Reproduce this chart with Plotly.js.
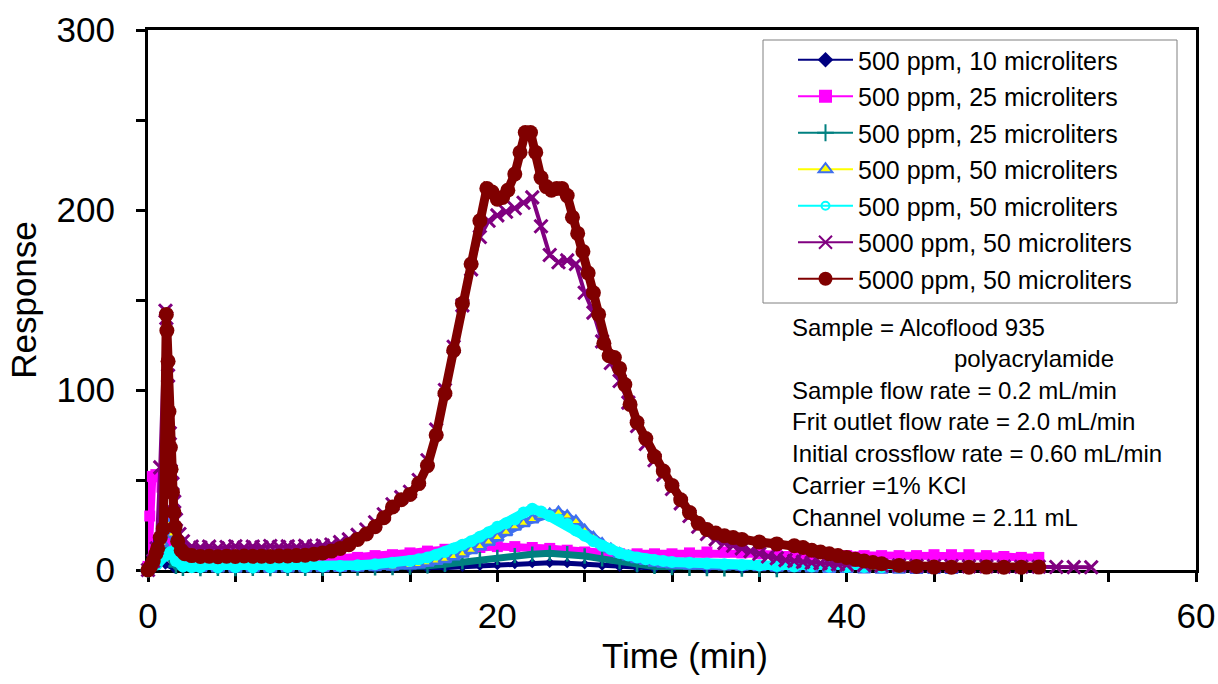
<!DOCTYPE html>
<html><head><meta charset="utf-8">
<script src="https://cdn.plot.ly/plotly-3.0.1.min.js"></script>
<style>html,body{margin:0;padding:0;background:#fff}#chart{width:1218px;height:684px}</style>
</head><body><div id="chart"></div>
<script>
// ---------- DATA ----------
const seriesNames = [
  "500 ppm, 10 microliters",
  "500 ppm, 25 microliters",
  "500 ppm, 25 microliters",
  "500 ppm, 50 microliters",
  "500 ppm, 50 microliters",
  "5000 ppm, 50 microliters",
  "5000 ppm, 50 microliters"
];

// 500 ppm, 10 uL (navy diamonds)
const tNavy = [0,0.2,0.35,0.5,0.7,1,1.5,2,3,4,5,6,7,8,9,10,11,12,13,14,15,16,17,18,19,20,21,22,23,24,25,26,27,28,29,30,32,34,36];
const vNavy = [0,8,15,14,8,3,1,0.5,0.4,0.3,0.4,0.3,0.4,0.3,0.4,0.4,0.5,0.5,0.6,0.7,0.8,1,1.3,1.8,2.3,2.8,3.3,3.8,4,3.8,3.2,2.5,1.8,1.2,0.8,0.5,0.3,0.2,0.1];

// 500 ppm, 25 uL (magenta squares)
const tMag = [0,0.1,0.25,0.45,0.65,0.8,0.95,1.1,1.3,1.6,2,3,4,5,6,7,8,9,10,11,12,13,14,15,16,17,18,19,20,21,22,23,24,25,26,27,28,29,30,31,32,33,34,35,36,37,38,39,40,41,42,43,44,45,46,47,48,49,50,51];
const vMag = [2,30,52,53,52,46,32,20,12,7,5,4.5,4.5,4.5,5,5,5.5,5.8,6,6.5,7,8,8.5,9.5,10.5,11.5,12,12.5,13,13,12.5,12,11,10,9.5,9,9,9,9,9.5,10,10,9.5,9,8.5,8.5,8.5,8,8,8,8,8,8,8.5,8.5,8.5,8,7.5,7,7];

// 500 ppm, 25 uL (teal crosses)
const tTeal = [0,0.5,1,1.3,1.6,2,3,4,5,6,7,8,9,10,11,12,13,14,15,16,17,18,19,20,21,22,23,24,25,26,27,28,29,30,31,32,33,34,35,36];
const vTeal = [0,6,10,6,2,1,0.8,0.9,0.8,0.9,0.8,0.9,1,0.9,1,1.1,1.2,1.3,1.6,2.3,3.2,4.5,5.8,7,8,8.8,9.3,9,7.8,6.2,4.5,3,2,1.4,1,0.8,0.6,0.5,0.4,0.3];

// 500 ppm, 50 uL (yellow line, blue-edged triangles)
const tTri = [0,0.5,0.8,1,1.2,1.4,1.6,1.8,2,2.5,3,4,5,6,7,8,9,10,11,12,13,14,
  15,15.5,16,16.5,17,17.5,18,18.5,19,19.5,20,20.5,21,21.5,22,22.5,23,23.5,24,24.5,25,25.5,26,26.5,27,27.5,28,28.5,29,29.5,30,
  31,32,33,34,35,36,37,38,39,40,41,42,43,44,45,46];
const vTri = [0,5,15,22,25,20,12,6,3,1.5,1,0.8,0.7,0.8,0.7,0.8,0.9,1,1.1,1.3,1.5,1.8,
  2.5,3,4,5,6,7.5,9,11,13,15.5,18,21,24,26,28,30,31,32,30,27,22,18,14.5,11.5,9,7.5,6,5,4,3.5,3,
  2.5,2.2,2,1.8,1.5,1.2,1,0.8,0.6,0.5,0.3,0.2,0.1,0,0,0];

// 500 ppm, 50 uL (cyan circles)
const tCyan = [0,0.5,1,1.3,1.6,2,2.5,3,4,5,6,7,8,9,10,11,12,13,14,
  15,15.5,16,16.5,17,17.5,18,18.5,19,19.5,20,20.5,21,21.5,22,22.5,23,23.5,24,24.5,25,25.5,26,26.5,27,27.5,28,28.5,29,29.5,30,
  31,32,33,34,35,36,37,38,39,40,41,42,43,44];
const vCyan = [0,3,8,10,5,2,1.5,1.5,1.4,1.5,1.4,1.5,1.6,1.7,1.9,2.2,2.6,3.2,4,
  5,6,7,8.5,10,12,14,16,18.5,21,24,26,28,32,34,32.5,30,28,25.5,22,19,16,13.5,11.5,9.5,8,7,6,5.5,5,4.5,
  4,3.6,3.2,2.8,2.5,2.2,2,1.9,1.8,1.7,1.6,1.5,1.5,1.5];

// 5000 ppm, 50 uL (purple crosses)
const tPur = [0,0.3,0.5,0.7,1,1.05,1.15,1.25,1.3,1.4,1.5,1.6,1.8,2,2.5,
  3,3.5,4,4.5,5,5.5,6,6.5,7,7.5,8,8.5,9,9.5,10,
  10.5,11,11.5,12,12.5,13,13.5,14,14.5,15,15.5,16,16.5,17,17.5,18,18.5,19,19.5,20,
  20.5,21,21.5,22,22.5,23,23.5,24,24.5,25,25.5,26,26.5,27,27.5,28,28.5,29,29.5,30,
  30.5,31,31.5,32,32.5,33,33.5,34,34.5,35,35.5,36,36.5,37,37.5,38,38.5,39,39.5,40,
  41,42,43,44,45,46,47,48,49,50,51,52,53,54];
const vPur = [0,5,12,57,144,140,108,76,55,48,38,28,20,16,13,
  12.5,13,12,12.8,13.2,12.4,13,12.6,13.3,12.8,13.1,12.7,13.4,13,13.6,
  14.2,15.5,17,19.5,22.5,26.5,31,36.5,40.5,43.5,50,61,78,100,124,147,167,185,194,197,
  199,201,204,207,191,175,171,172,170,154,143,127,115,105,93,80,70,61,53,45,
  37,30,24,20,17,15,13.5,12,10.5,9,7.5,6.5,5.5,5,4.5,4,3.8,3.5,3.2,3,
  2.7,2.5,2.6,2.3,2.2,2.2,2,2,1.9,1.8,1.8,1.7,1.6,1.5];

// 5000 ppm, 50 uL (dark red circles)
const tRed = [0,0.15,0.3,0.45,0.55,0.7,0.88,1.05,1.08,1.15,1.2,1.28,1.32,1.4,1.48,1.55,1.7,1.9,2.1,2.5,
  3,3.5,4,4.5,5,5.5,6,6.5,7,7.5,8,8.5,9,9.5,10,
  10.5,11,11.5,12,12.5,13,13.5,14,14.5,15,15.5,16,16.5,17,17.5,18,18.5,19,
  19.4,19.7,20,20.3,20.6,
  21,21.3,21.6,21.9,22.2,22.5,22.8,23.1,23.4,23.7,24,24.3,24.6,24.9,25.2,25.5,25.8,26.1,26.4,26.7,27,27.3,27.6,
  28,28.5,29,29.5,30,
  30.5,31,31.5,32,32.5,33,33.5,34,35,36,37,37.5,38,38.5,39,39.5,40,40.5,41,41.5,42,
  43,44,45,46,47,48,49,50,51];
const vRed = [0,2,5,9,12,18,23,142,133,116,88,68,56,43,32,24,16,11,9,8,
  7.5,7.6,7.4,7.7,7.5,7.8,7.6,7.7,7.5,7.8,7.8,8,8.2,8.8,9.5,
  10.5,12,14,17,20,24,29,35,39,42,48,58,75,98,122,148,170,194,
  212,210,206,207,211,
  220,232,243,243,232,218,213,211,212,212,208,196,187,177,165,154,142,126,119,118,112,103,92,
  82,73,63,55,47,
  39,32,26,22.5,20.5,19,18,17,15.5,14.5,13.5,12.5,11,10,9,8,7,6,5,4.2,3.5,
  2.5,2,1.6,1.5,1.5,1.6,1.5,1.5,1.6];

const annotationLines = [
  "Sample = Alcoflood 935",
  "polyacrylamide",
  "Sample flow rate = 0.2 mL/min",
  "Frit outlet flow rate = 2.0 mL/min",
  "Initial crossflow rate = 0.60 mL/min",
  "Carrier =1% KCl",
  "Channel volume = 2.11 mL"
];
const xTitle = "Time (min)";
const yTitle = "Response";

// ---------- STYLES ----------
const FONT = "Arial, 'Liberation Sans', sans-serif";
const styles = [
  {line:{color:'#000080',width:5}, marker:{symbol:'diamond',size:8,color:'#000080'},
   lline:{color:'#000080',width:2}, lmarker:{symbol:'diamond',size:12,color:'#000080'}},
  {line:{color:'#FF00FF',width:8}, marker:{symbol:'square',size:11,color:'#FF00FF'},
   lline:{color:'#FF00FF',width:2}, lmarker:{symbol:'square',size:13,color:'#FF00FF'}},
  {line:{color:'#008080',width:7}, marker:{symbol:'cross-thin',size:11,color:'#008080',line:{color:'#008080',width:2.5}},
   lline:{color:'#008080',width:2}, lmarker:{symbol:'cross-thin',size:12,color:'#008080',line:{color:'#008080',width:2}}},
  {line:{color:'#3F6FEF',width:8}, marker:{symbol:'triangle-up',size:11,color:'#FFFF00',line:{color:'#3F6FEF',width:2.5}},
   lline:{color:'#FFFF00',width:2}, lmarker:{symbol:'triangle-up',size:12,color:'#FFFF00',line:{color:'#3F6FEF',width:2}}},
  {line:{color:'#00FFFF',width:10}, marker:{symbol:'circle',size:12,color:'#00FFFF'},
   lline:{color:'#00FFFF',width:2}, lmarker:{symbol:'circle-open',size:8,color:'#00FFFF',line:{color:'#00FFFF',width:2}}},
  {line:{color:'#800080',width:4}, marker:{symbol:'x-thin',size:13,color:'#800080',line:{color:'#800080',width:3}},
   lline:{color:'#800080',width:2}, lmarker:{symbol:'x-thin',size:13,color:'#800080',line:{color:'#800080',width:2}}},
  {line:{color:'#800000',width:9}, marker:{symbol:'circle',size:15,color:'#800000'},
   lline:{color:'#800000',width:2}, lmarker:{symbol:'circle',size:14,color:'#800000'}}
];

const xs = [tNavy,tMag,tTeal,tTri,tCyan,tPur,tRed];
const ys = [vNavy,vMag,vTeal,vTri,vCyan,vPur,vRed];

const traces = [];
for (let i=0;i<7;i++){
  traces.push({x:xs[i], y:ys[i], type:'scatter', mode:'lines+markers', showlegend:false,
    cliponaxis:false, hoverinfo:'skip', line:styles[i].line, marker:styles[i].marker});
}
for (let i=0;i<7;i++){
  traces.push({x:[null], y:[null], type:'scatter', mode:'lines+markers', name:seriesNames[i],
    legendgroup:'g'+i, line:styles[i].lline, marker:styles[i].lmarker});
}

// plot area in pixels: left 148, right 1196, top 30, bottom 570
const px = v => (v-148)/1048, py = v => (570-v)/540;

const annY = [327, 358.5, 390, 421.5, 453, 485, 517];
const annotations = annotationLines.map((txt,i)=>({
  text:txt, xref:'paper', yref:'paper',
  x: i===1 ? px(952) : px(790),
  y: py(annY[i]), xanchor:'left', yanchor:'middle', showarrow:false,
  font:{family:FONT, size:24, color:'#000'}
}));
annotations.push({text:xTitle, xref:'paper', yref:'paper', x:px(685), y:py(655),
  xanchor:'center', yanchor:'middle', showarrow:false, font:{family:FONT, size:35, color:'#000'}});

const axisCommon = {
  showline:true, linewidth:3, linecolor:'#000', mirror:true,
  ticks:'outside', ticklen:9, tickwidth:3, tickcolor:'#000',
  showgrid:false, zeroline:false, layer:'below traces',
  tickfont:{family:FONT, size:35, color:'#000'}
};

const layout = {
  width:1218, height:684,
  margin:{l:148, r:22, t:30, b:114, pad:0},
  paper_bgcolor:'#fff', plot_bgcolor:'#fff',
  font:{family:FONT, color:'#000'},
  xaxis: Object.assign({}, axisCommon, {
    range:[0,60], tick0:0, dtick:20, ticklabelstandoff:4,
    minor:{dtick:5, ticks:'outside', ticklen:9, tickwidth:3, tickcolor:'#000', showgrid:false}
  }),
  yaxis: Object.assign({}, axisCommon, {
    range:[0,300], tick0:0, dtick:100, ticklabelstandoff:14,
    minor:{dtick:50, ticks:'outside', ticklen:9, tickwidth:3, tickcolor:'#000', showgrid:false},
    title:{text:yTitle, font:{family:FONT, size:35, color:'#000'}, standoff:10}
  }),
  shapes:[{type:'rect', xref:'paper', yref:'paper', x0:px(763), x1:px(1177), y0:py(303), y1:py(40),
    fillcolor:'#fff', line:{color:'#808080', width:1}, layer:'above'}],
  legend:{x:px(763), y:py(37), xanchor:'left', yanchor:'top',
    bgcolor:'rgba(0,0,0,0)', borderwidth:0,
    font:{family:FONT, size:25, color:'#000'}, tracegroupgap:1, itemwidth:55, indentation:30},
  annotations: annotations,
  showlegend:true
};

Plotly.newPlot('chart', traces, layout, {staticPlot:true, displayModeBar:false});
</script></body></html>
